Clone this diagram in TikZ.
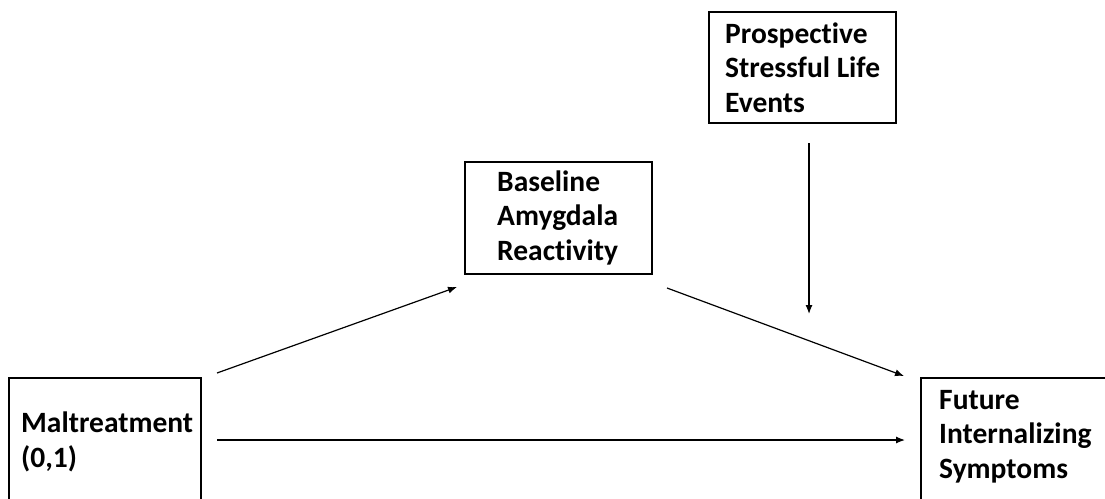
\documentclass[tikz,border=0pt]{standalone}
\usepackage{fontspec}
\setmainfont{Carlito}[Ligatures=NoCommon]
\usetikzlibrary{arrows.meta}
\tikzset{
  boxshape/.style={draw=black, line width=1.3pt, fill=none},
  label/.style={anchor=base west, inner sep=0pt, align=left, font=\fontsize{29.5}{34.5}\selectfont\bfseries},
  arr/.style={line width=1.2pt, -{Latex[length=9pt,width=7pt]}}
}
\begin{document}
\begin{tikzpicture}[x=1pt,y=-1pt]
\useasboundingbox (0,0) rectangle (1105,498);
% boxes
\draw[boxshape] (9,378) rectangle (201,530);
\draw[boxshape] (921,378) rectangle (1130,530);
\draw[boxshape] (709,12) rectangle (896,123);
\draw[boxshape] (465,162) rectangle (652,274);
% texts (anchored at the baseline of the last line)
\node[label] (mal) at (21,467) {Maltreatment\\(0,1)};
\node[label] (fut) at (939,478) {Future\\Internalizing\\Symptoms};
\node[label] (pro) at (725,112) {Prospective\\Stressful Life\\Events};
\node[label] (bas) at (497,260) {Baseline\\Amygdala\\Reactivity};
% connector end points
\coordinate (m1) at (217,373);
\coordinate (b1) at (457,287);
\coordinate (m2) at (217,440);
\coordinate (f2) at (905,440);
\coordinate (b3) at (667,288);
\coordinate (f3) at (904,376);
\coordinate (p4) at (809,143);
\coordinate (x4) at (809,314);
\draw[arr] (m1) -- (b1);
\draw[arr] (m2) -- (f2);
\draw[arr] (b3) -- (f3);
\draw[arr] (p4) -- (x4);
\end{tikzpicture}
\end{document}
